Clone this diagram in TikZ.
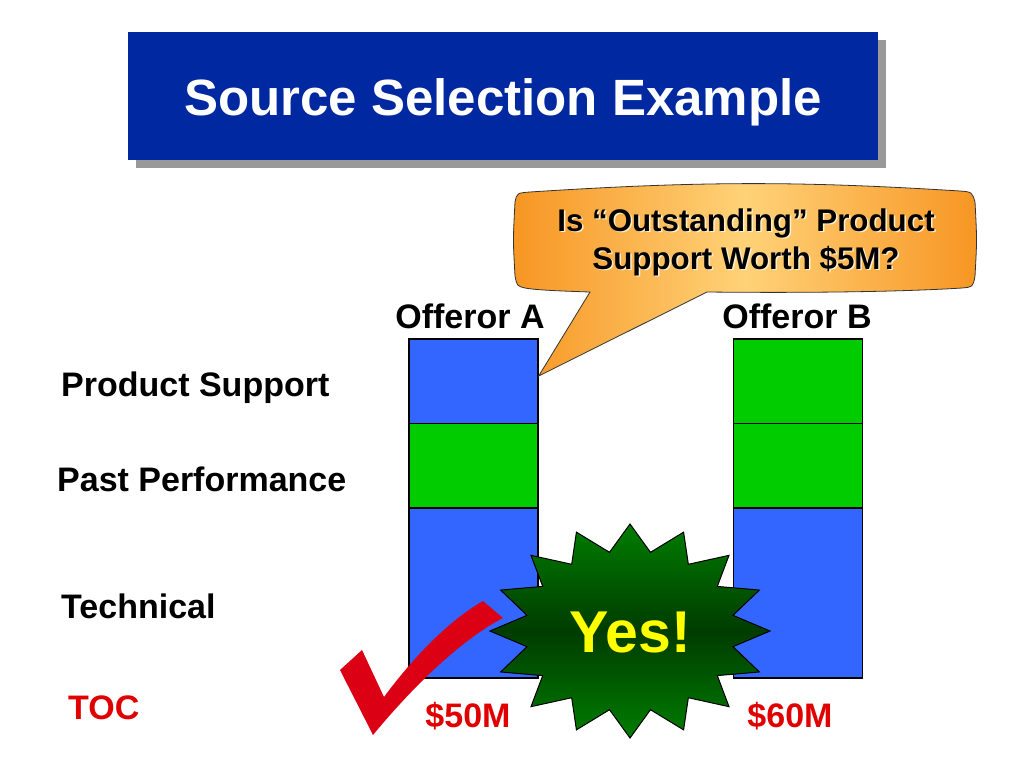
\documentclass[tikz,border=0pt]{standalone}
\usepackage{fontspec}
\setmainfont{Liberation Sans}
\newcommand\myfs[1]{\fontsize{#1}{#1}\selectfont\bfseries}
\definecolor{titleblue}{RGB}{0,40,160}
\definecolor{shadowgray}{RGB}{153,153,153}
\definecolor{barblue}{RGB}{51,102,255}
\definecolor{bargreen}{RGB}{0,204,0}
\definecolor{tocred}{RGB}{225,0,0}
\definecolor{checkred}{RGB}{220,0,20}
\definecolor{calloutorange}{RGB}{247,150,35}
\definecolor{calloutlight}{RGB}{255,210,120}
\definecolor{textglow}{RGB}{255,240,210}
\definecolor{starouter}{RGB}{0,125,0}
\definecolor{starinner}{RGB}{0,60,0}
\definecolor{yesyellow}{RGB}{255,255,0}
\tikzset{
  bar/.style={draw=black, line width=1.3pt, minimum width=129pt, inner sep=0pt},
  lbl/.style={anchor=base west, inner sep=0pt, font=\myfs{34}},
  colhead/.style={anchor=base, inner sep=0pt, font=\myfs{34}},
  money/.style={anchor=base, inner sep=0pt, font=\myfs{34}, text=tocred},
  qtext/.style={anchor=base, inner sep=0pt, font=\myfs{31.3}},
  calloutshape/.style={draw=black!80, line width=0.8pt, left color=calloutorange, right color=calloutorange, middle color=calloutlight},
  starburst/.style={draw=black, line width=1pt, top color=starouter, bottom color=starouter, middle color=starinner},
}
\begin{document}
\begin{tikzpicture}[x=1pt,y=-1pt]
\useasboundingbox[fill=white] (0,0) rectangle (1024,768);
% title
\fill[shadowgray] (136,40) rectangle (886,168);
\node[fill=titleblue, minimum width=750pt, minimum height=128pt, inner sep=0pt] (titlebox) at (503,96) {};
\node[anchor=base, inner sep=0pt, text=white, font=\myfs{51}] (title) at (503,115) {Source Selection Example};
% row labels
\node[lbl] (ps) at (61,396) {Product Support};
\node[lbl] (pp) at (57,491) {Past Performance};
\node[lbl] (tech) at (61,618) {Technical};
\node[lbl, text=tocred] (toc) at (68,719) {TOC};
% column headers
\node[colhead] (offA) at (470,328) {Offeror A};
\node[colhead] (offB) at (797,328) {Offeror B};
% bars A
\node[bar, fill=barblue, minimum height=85pt] (a1) at (473.5,381.5) {};
\node[bar, fill=bargreen, minimum height=85pt] (a2) at (473.5,466) {};
\node[bar, fill=barblue, minimum height=170pt] (a3) at (473.5,593) {};
% bars B
\node[bar, fill=bargreen, minimum height=85pt] (b1) at (798,381.5) {};
\node[bar, fill=bargreen, minimum height=85pt] (b2) at (798,466) {};
\node[bar, fill=barblue, minimum height=170pt] (b3) at (798,593) {};
% prices
\node[money] (pa) at (468,727) {\$50M};
\node[money] (pb) at (790,727) {\$60M};
% check mark
\fill[checkred] (340,670) -- (362,650) -- (384,697) .. controls (415,655) and (450,620) .. (483,601) -- (503,618) .. controls (460,640) and (410,690) .. (373,735) -- cycle;
% starburst
\draw[starburst] plot[samples at={0,1,...,31}, variable=\k] ({630+140*(1-0.25*mod(\k,2))*sin(\k*11.25)}, {631-107*(1-0.25*mod(\k,2))*cos(\k*11.25)}) -- cycle;
\node[anchor=base, inner sep=0pt, text=yesyellow, font=\myfs{59}] (yes) at (630,652) {Yes!};
% callout
\coordinate (tip) at (a1.east |- 0,376);
\draw[calloutshape] (tip) -- (590,292) .. controls (560,291) and (535,290) .. (525,288) .. controls (517,286) .. (515,276) .. controls (513,240) .. (515,202) .. controls (517,193) .. (530,192) .. controls (700,181) and (800,181) .. (960,191) .. controls (972,192) .. (975,202) .. controls (977,240) .. (975,276) .. controls (973,287) .. (962,288) .. controls (900,292) and (800,293) .. (707,292) -- cycle;
\node[qtext, text=textglow] (q1s) at (747.5,232.5) {Is “Outstanding” Product};
\node[qtext, text=textglow] (q2s) at (747.5,270.5) {Support Worth \$5M?};
\node[qtext] (q1) at (746,231) {Is “Outstanding” Product};
\node[qtext] (q2) at (746,269) {Support Worth \$5M?};
\end{tikzpicture}
\end{document}
